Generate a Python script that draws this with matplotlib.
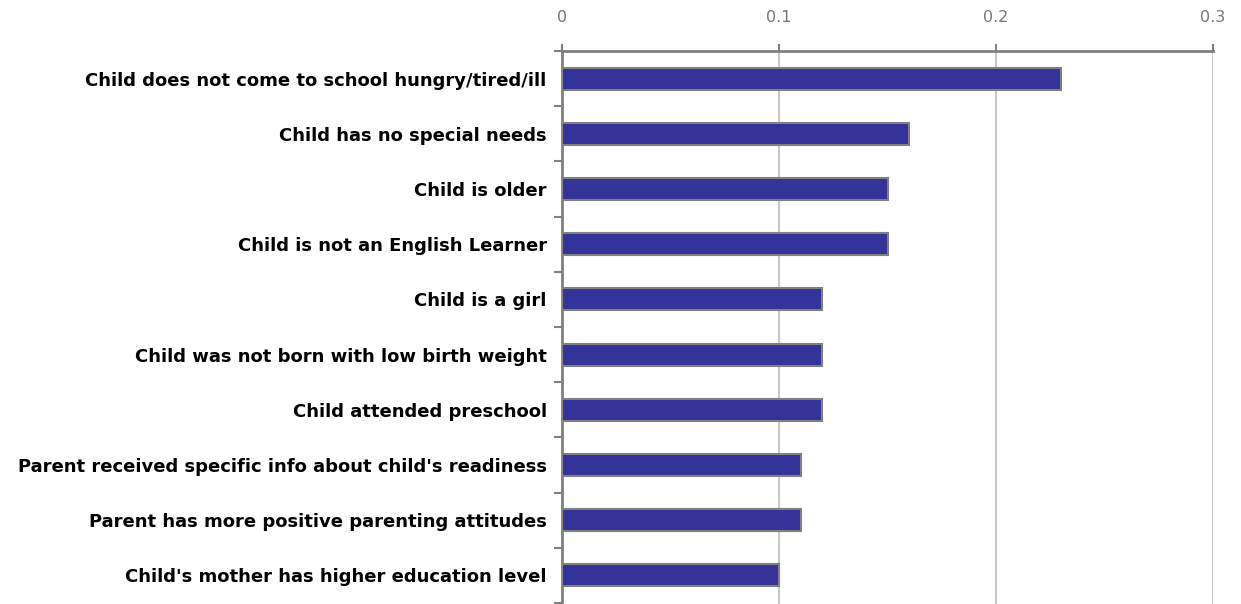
import numpy as np
import matplotlib.pyplot as plt

labels = [
    "Child does not come to school hungry/tired/ill",
    "Child has no special needs",
    "Child is older",
    "Child is not an English Learner",
    "Child is a girl",
    "Child was not born with low birth weight",
    "Child attended preschool",
    "Parent received specific info about child's readiness",
    "Parent has more positive parenting attitudes",
    "Child's mother has higher education level",
]
values = [0.23, 0.16, 0.15, 0.15, 0.12, 0.12, 0.12, 0.11, 0.11, 0.10]
xticks = [0, 0.1, 0.2, 0.3]

fig = plt.figure(figsize=(12.41, 6.04), dpi=100)
ax = fig.add_axes([562 / 1241, 0.0, (1213 - 562) / 1241, (604 - 51) / 604])

y = np.arange(len(labels))
ax.barh(y, values, height=0.4, color='#333399', edgecolor='#808080', linewidth=1.5, zorder=3)

ax.set_xlim(0, 0.3)
ax.set_ylim(len(labels) - 0.5 + 0.02, -0.5)
ax.xaxis.tick_top()
ax.set_xticks(xticks)
ax.set_xticklabels(['0', '0.1', '0.2', '0.3'])
ax.tick_params(axis='x', colors='#808080', labelcolor='#777777', labelsize=11.5, length=5, width=1.5, pad=14)
ax.grid(axis='x', color='#c8c8c8', linewidth=1.5, zorder=0)

ax.set_yticks(y)
ax.set_yticklabels(labels, fontsize=13, fontweight='bold', family='DejaVu Sans')
ax.tick_params(axis='y', length=0, pad=11)
ax.set_yticks(np.arange(len(labels) + 1) - 0.5, minor=True)
ax.tick_params(axis='y', which='minor', length=6, width=1.5, color='#808080')

for side in ['right', 'bottom']:
    ax.spines[side].set_visible(False)
for side in ['top', 'left']:
    ax.spines[side].set_color('#808080')
    ax.spines[side].set_linewidth(2)

fig.savefig('out.png', dpi=100)
